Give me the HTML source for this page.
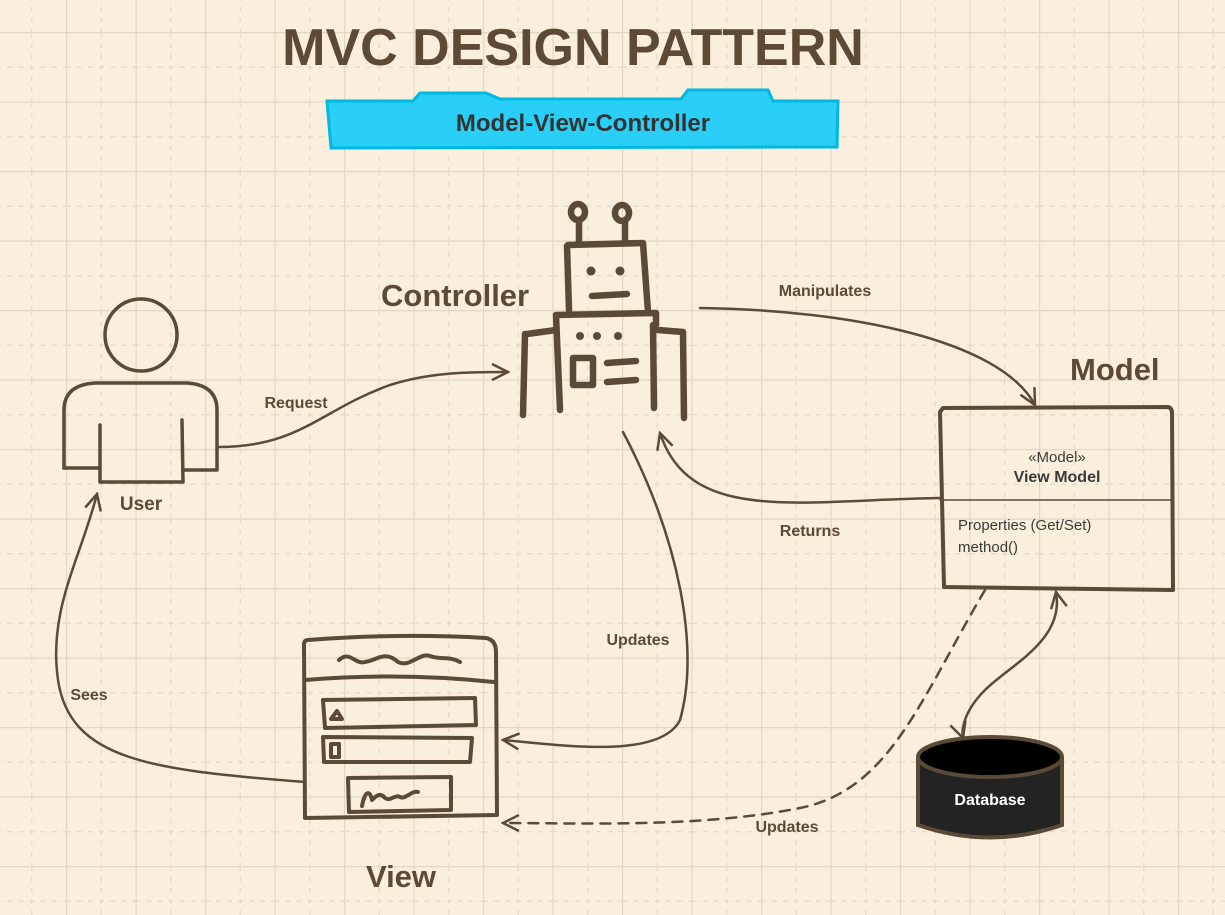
<!DOCTYPE html>
<html><head><meta charset="utf-8"><style>
html,body{margin:0;padding:0;width:1225px;height:915px;overflow:hidden;background:#faefdc}
svg{display:block}
text{font-family:"Liberation Sans",Arial,sans-serif}
</style></head><body>
<svg width="1225" height="915" viewBox="0 0 1225 915" xmlns="http://www.w3.org/2000/svg">
<defs>
<pattern id="g" x="66" y="32" width="69.5" height="69.5" patternUnits="userSpaceOnUse">
<path d="M0.5 0V69.5M0 0.5H69.5" stroke="#e0d7c5" stroke-width="1.4" fill="none"/>
<path d="M35.25 0V69.5M0 35.25H69.5" stroke="#e3dacb" stroke-width="1.2" stroke-dasharray="5 6" fill="none"/>
</pattern>
<marker id="a" viewBox="0 0 20 20" refX="18" refY="10" markerWidth="20" markerHeight="20" markerUnits="userSpaceOnUse" orient="auto-start-reverse">
<path d="M2 2L18 10L2 18" fill="none" stroke="#5b4a36" stroke-width="2.5"/>
</marker>
</defs>
<rect width="1225" height="915" fill="#faefdc"/>
<rect width="1225" height="915" fill="url(#g)"/>

<text x="573" y="65" text-anchor="middle" font-size="52" font-weight="bold" fill="#5c4a35">MVC DESIGN PATTERN</text>
<polygon points="327,101 413,101 420,93 486,93 500,99 681,99 688,90 768,90 773,101 838,101 837,147 331,148" fill="#29cff7" stroke="#00b8e0" stroke-width="3"/>
<text x="583" y="131" text-anchor="middle" font-size="24" font-weight="bold" fill="#333">Model-View-Controller</text>

<g fill="none" stroke="#5b4a36" stroke-width="3.5" stroke-linecap="round" stroke-linejoin="round">
<!-- user -->
<circle cx="141" cy="335" r="36"/>
<path d="M64,468 L64,410 Q64,385 95,383 L187,383 Q217,385 217,410 L217,470 L183,470"/>
<path d="M64,468 L100,468"/>
<path d="M100,425 L100,482 L183,482 L182,420"/>
<!-- robot -->
<g stroke-width="6.5">
<ellipse cx="578" cy="212" rx="7" ry="8"/><ellipse cx="622" cy="213" rx="7" ry="8"/>
<path d="M579,221V242M625,222V242"/>
<path d="M567,246L569,310M568,245L643,243L648,312"/>
<path d="M592,296L627,294"/>
<path d="M556,315L656,313L656,325M556,315L560,410M653,325L654,408"/>
<path d="M527,334L556,330M525,334L523,415M658,330L683,332L684,418"/>
<rect x="573" y="358" width="20" height="27"/>
<path d="M607,363L636,361M607,382L636,380"/>
</g>
<g fill="#5b4a36" stroke="none">
<circle cx="591" cy="271" r="4.5"/><circle cx="620" cy="271" r="4.5"/>
<circle cx="580" cy="336" r="4"/><circle cx="597" cy="336" r="4"/><circle cx="618" cy="336" r="4"/>
</g>
<!-- view -->
<g stroke-width="4">
<path d="M308,640 Q400,633 486,638 Q496,640 496,652 L497,815 L305,818 L304,645 Q304,640 308,640Z"/>
<path d="M305,680 Q400,672 494,682"/>
<path d="M339,660 C350,650 355,665 365,662 C378,660 385,650 398,662 C410,668 420,652 430,656 C440,660 450,656 460,662"/>
<path d="M323,700 L475,698 L476,725 L325,728Z"/>
<path d="M323,737 L472,738 L470,762 L324,762Z"/>
<path d="M348,778 L451,777 L451,810 L349,812Z"/>
<path d="M362,806 C365,790 370,790 372,800 C376,796 380,792 385,798 C390,802 395,794 400,797 C405,800 412,790 418,792"/>
<path d="M331,719 L342,719 L337,711Z"/>
<rect x="331" y="744" width="8" height="13"/>
</g>
<!-- model box -->
<path d="M943,408 L1168,407 Q1172,408 1172,413 L1173,590 L944,587 L940,412Z" stroke-width="4"/>
<path d="M940,500 L1172,500" stroke-width="1.5"/>
<!-- connectors -->
<g stroke-width="2.5">
<path d="M218,447 C300,447 320,410 390,385 C430,372 470,372 508,372" marker-end="url(#a)"/>
<path d="M700,308 C850,310 1000,340 1035,405" marker-end="url(#a)"/>
<path d="M940,498 C800,500 690,525 660,433" marker-end="url(#a)"/>
<path d="M623,432 C680,540 700,650 680,720 C660,760 560,745 503,740" marker-end="url(#a)"/>
<path d="M305,782 C150,770 70,760 58,680 C48,610 80,560 97,494" marker-end="url(#a)"/>
<path d="M985,590 C920,700 890,790 800,808 C700,828 580,823 503,823" stroke-dasharray="10 8" marker-end="url(#a)"/>
<path d="M1056,592 C1065,640 1010,665 985,690 C960,715 962,735 963,738" marker-start="url(#a)" marker-end="url(#a)"/>
</g>
</g>
<!-- database -->
<path d="M918,757 L918,825 Q990,850 1062,825 L1062,757" fill="#232323" stroke="#5b4a36" stroke-width="4"/>
<ellipse cx="990" cy="757" rx="72" ry="20" fill="#000" stroke="#5b4a36" stroke-width="4"/>
<text x="990" y="805" text-anchor="middle" font-size="16" font-weight="bold" fill="#fff">Database</text>

<g fill="#5c4a35" font-weight="bold">
<text x="141" y="510" text-anchor="middle" font-size="19">User</text>
<text x="381" y="306" font-size="31">Controller</text>
<text x="1070" y="380" font-size="31">Model</text>
<text x="401" y="887" text-anchor="middle" font-size="31">View</text>
<text x="296" y="408" text-anchor="middle" font-size="16">Request</text>
<text x="825" y="296" text-anchor="middle" font-size="16">Manipulates</text>
<text x="810" y="536" text-anchor="middle" font-size="16">Returns</text>
<text x="638" y="645" text-anchor="middle" font-size="16">Updates</text>
<text x="89" y="700" text-anchor="middle" font-size="16">Sees</text>
<text x="787" y="832" text-anchor="middle" font-size="16">Updates</text>
</g>
<text x="1057" y="462" text-anchor="middle" font-size="15" fill="#3a3a3a">«Model»</text>
<text x="1057" y="482" text-anchor="middle" font-size="16" font-weight="bold" fill="#3a3a3a">View Model</text>
<text x="958" y="530" font-size="15" fill="#3a3a3a">Properties  (Get/Set)</text>
<text x="958" y="552" font-size="15" fill="#3a3a3a">method()</text>
</svg>
</body></html>
